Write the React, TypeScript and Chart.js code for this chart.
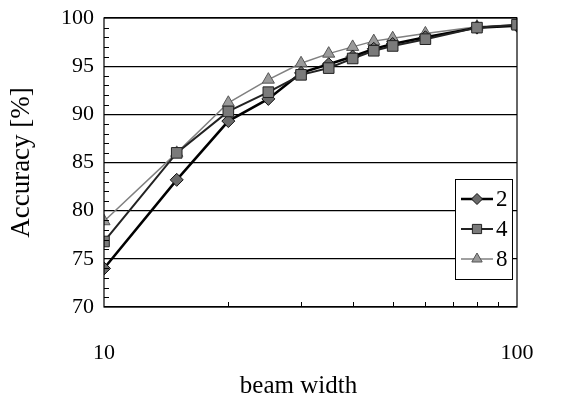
import React, { useEffect, useRef } from 'react';
import { Chart, registerables } from 'chart.js';
import { drawPoint } from 'chart.js/helpers';

Chart.register(...registerables);

const beamWidths = [10, 15, 20, 25, 30, 35, 40, 45, 50, 60, 80, 100];
const acc2 = [74.0, 83.2, 89.3, 91.6, 94.3, 95.2, 96.0, 96.8, 97.3, 98.0, 99.0, 99.2];
const acc4 = [76.8, 86.0, 90.3, 92.3, 94.1, 94.8, 95.8, 96.6, 97.1, 97.8, 99.0, 99.3];
const acc8 = [78.9, 86.0, 91.2, 93.6, 95.3, 96.3, 97.0, 97.6, 97.9, 98.4, 99.1, 99.3];
const seriesLabels = ['2', '4', '8'];
const xTitle = 'beam width';
const yTitle = 'Accuracy [%]';
const xTickValues = [10, 100];
const xMinorTicks = [20, 30, 40, 50, 60, 70, 80, 90];
const yTickValues = [70, 75, 80, 85, 90, 95, 100];
const yMinorTicks = [71, 72, 73, 74, 76, 77, 78, 79, 81, 82, 83, 84, 86, 87, 88, 89, 91, 92, 93, 94, 96, 97, 98, 99];

const FONT = "'Liberation Serif', 'Times New Roman', serif";

const framePlugin = {
  id: 'frameAndLegend',
  afterDraw(chart: any) {
    const { ctx, chartArea: a } = chart;
    const xs = chart.scales.x;
    const ys = chart.scales.y;
    ctx.save();
    ctx.strokeStyle = '#000';
    ctx.lineWidth = 1.2;
    ctx.strokeRect(a.left, a.top, a.right - a.left, a.bottom - a.top);
    ctx.lineWidth = 1;
    ctx.beginPath();
    for (const v of yMinorTicks) {
      const y = Math.round(ys.getPixelForValue(v)) + 0.5;
      ctx.moveTo(a.left, y);
      ctx.lineTo(a.left + 5, y);
    }
    for (const v of xMinorTicks) {
      const x = Math.round(xs.getPixelForValue(v)) + 0.5;
      ctx.moveTo(x, a.bottom);
      ctx.lineTo(x, a.bottom - 5);
    }
    ctx.stroke();

    // axis title (x)
    ctx.fillStyle = '#000';
    ctx.font = `25px ${FONT}`;
    ctx.textAlign = 'center';
    ctx.textBaseline = 'middle';
    ctx.fillText(xTitle, (a.left + a.right) / 2 - 12, xs.bottom - 17);

    // legend
    const lw = 57, lh = 100;
    const lx = Math.round(a.right - 5 - lw);
    const ly = Math.round(a.bottom - 28 - lh);
    ctx.fillStyle = '#fff';
    ctx.fillRect(lx, ly, lw, lh);
    ctx.strokeStyle = '#000';
    ctx.lineWidth = 1;
    ctx.strokeRect(lx + 0.5, ly + 0.5, lw, lh);
    chart.data.datasets.forEach((ds: any, i: number) => {
      const cy = ly + 20 + i * 30;
      ctx.strokeStyle = ds.borderColor;
      ctx.lineWidth = ds.borderWidth;
      ctx.beginPath();
      ctx.moveTo(lx + 6, cy);
      ctx.lineTo(lx + 38, cy);
      ctx.stroke();
      ctx.fillStyle = ds.pointBackgroundColor;
      ctx.strokeStyle = ds.pointBorderColor;
      ctx.lineWidth = ds.pointBorderWidth;
      drawPoint(ctx, { pointStyle: ds.pointStyle, radius: ds.pointRadius - 1, rotation: 0, borderWidth: ds.pointBorderWidth }, lx + 22, cy);
      ctx.fillStyle = '#000';
      ctx.font = `23px ${FONT}`;
      ctx.textAlign = 'left';
      ctx.textBaseline = 'middle';
      ctx.fillText(ds.label, lx + 41, cy + 1);
    });
    ctx.restore();
  },
};

function mk(values: number[]) {
  return beamWidths.map((b, i) => ({ x: b, y: values[i] }));
}

export default function App() {
  const ref = useRef<HTMLCanvasElement>(null);
  useEffect(() => {
    if (!ref.current) return;
    const chart = new Chart(ref.current, {
      type: 'line',
      data: {
        datasets: [
          {
            label: seriesLabels[0],
            data: mk(acc2),
            borderColor: '#000',
            borderWidth: 2.5,
            pointStyle: 'rectRot',
            pointRadius: 6.5,
            pointBackgroundColor: '#6a6a6a',
            pointBorderColor: '#111',
            pointBorderWidth: 1,
            order: 1,
          },
          {
            label: seriesLabels[1],
            data: mk(acc4),
            borderColor: '#222',
            borderWidth: 2,
            pointStyle: 'rect',
            pointRadius: 7.5,
            pointBackgroundColor: '#7a7a7a',
            pointBorderColor: '#222',
            pointBorderWidth: 1,
            order: 0,
          },
          {
            label: seriesLabels[2],
            data: mk(acc8),
            borderColor: '#808080',
            borderWidth: 1.5,
            pointStyle: 'triangle',
            pointRadius: 7,
            pointBackgroundColor: '#9a9a9a',
            pointBorderColor: '#555',
            pointBorderWidth: 1,
            order: 2,
          },
        ] as any,
      },
      options: {
        animation: false,
        responsive: true,
        maintainAspectRatio: false,
        layout: { padding: { top: 18, right: 49, bottom: 0, left: 0 } },
        plugins: { legend: { display: false }, tooltip: { enabled: false } },
        elements: { line: { tension: 0 } },
        scales: {
          x: {
            type: 'logarithmic',
            min: 10,
            max: 100,
            afterBuildTicks: (s: any) => {
              s.ticks = xTickValues.map((v) => ({ value: v }));
            },
            afterFit: (s: any) => {
              s.height = 96;
              s.paddingLeft = 0;
              s.paddingRight = 0;
            },
            grid: { display: false, drawTicks: false },
            border: { display: false },
            ticks: {
              color: '#000',
              font: { family: FONT, size: 22 },
              padding: 33,
              maxRotation: 0,
              autoSkip: false,
              callback: (v: any) => String(v),
            },
            title: { display: false },
          },
          y: {
            min: 70,
            max: 100,
            afterBuildTicks: (s: any) => {
              s.ticks = yTickValues.map((v) => ({ value: v }));
            },
            afterFit: (s: any) => {
              s.width = 104;
              s.paddingTop = 0;
              s.paddingBottom = 0;
            },
            grid: { color: '#000', lineWidth: 1.2, drawTicks: false },
            border: { display: false },
            ticks: {
              color: '#000',
              font: { family: FONT, size: 22 },
              padding: 10,
              callback: (v: any) => String(v),
            },
            title: {
              display: true,
              text: yTitle,
              color: '#000',
              font: { family: FONT, size: 27 },
              padding: { top: 6, bottom: 0 },
            },
          },
        },
      } as any,
      plugins: [framePlugin],
    });
    return () => chart.destroy();
  }, []);
  return (
    <div style={{ position: 'fixed', left: 0, top: 0, width: 566, height: 403, background: '#fff' }}>
      <canvas ref={ref} />
    </div>
  );
}
